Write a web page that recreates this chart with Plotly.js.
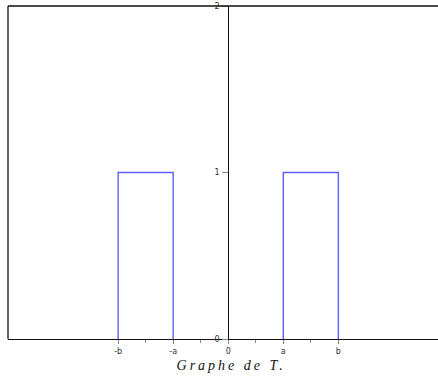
<!DOCTYPE html>
<html>
<head>
<meta charset="utf-8">
<script src="https://cdn.plot.ly/plotly-3.0.1.min.js"></script>
<style>
html,body{margin:0;padding:0;background:#fff;overflow:hidden;}
.gtitle{letter-spacing:3px;}
</style>
</head>
<body>
<div id="chart" style="width:438px;height:383px;"></div>
<script>
// Values
const a = 1;
const b = 2;
const xMin = -4;
const xMax = 3.81;
const yMin = 0;
const yMax = 2;
const leftPulseX = [-b, -b, -a, -a];
const leftPulseY = [0, 1, 1, 0];
const rightPulseX = [a, a, b, b];
const rightPulseY = [0, 1, 1, 0];
const xTickVals = [-b, -a, 0, a, b];
const xTickText = ['-b', '-a', '0', 'a', 'b'];
const xMinorVals = [-1.5, -0.5, 0.5, 1.5];
const yTickVals = [0, 1, 2];
const yTickText = ['0', '1', '2'];
const titleText = 'Graphe de T.';

const lineStyle = {color: 'rgb(95,95,255)', width: 1.4};

const traces = [
  {x: leftPulseX, y: leftPulseY, mode: 'lines', line: lineStyle, hoverinfo: 'none', cliponaxis: true},
  {x: rightPulseX, y: rightPulseY, mode: 'lines', line: lineStyle, hoverinfo: 'none', cliponaxis: true}
];

const tickFont = {family: 'DejaVu Sans, sans-serif', size: 8, color: '#333'};

const layout = {
  width: 438, height: 383,
  margin: {l: 8, r: 0, t: 6, b: 44, pad: 0},
  paper_bgcolor: '#fff', plot_bgcolor: '#fff',
  showlegend: false,
  title: {
    text: titleText,
    font: {family: 'Liberation Serif, DejaVu Serif, serif', size: 14, style: 'italic', color: '#111'},
    x: 0.519, xanchor: 'center', xref: 'paper',
    y: 0.047, yanchor: 'middle', yref: 'container'
  },
  xaxis: {
    range: [xMin, xMax], fixedrange: true,
    showgrid: false, zeroline: false,
    showline: true, linecolor: '#111', linewidth: 1.3, mirror: false,
    tickmode: 'array', tickvals: xTickVals, ticktext: xTickText,
    ticks: 'outside', ticklen: 4, tickcolor: '#888', tickwidth: 1,
    tickfont: tickFont,
    minor: {tickmode: 'array', tickvals: xMinorVals, ticks: 'outside', ticklen: 3, tickcolor: '#888', tickwidth: 1},
    layer: 'above traces'
  },
  yaxis: {
    range: [yMin, yMax], fixedrange: true,
    anchor: 'free', position: (0 - xMin) / (xMax - xMin),
    showgrid: false, zeroline: false,
    showline: true, linecolor: '#111', linewidth: 1.2, mirror: false,
    tickmode: 'array', tickvals: yTickVals, ticktext: yTickText,
    ticks: 'outside', ticklen: 6, tickcolor: '#888', tickwidth: 1,
    tickfont: tickFont, ticklabelstandoff: 1,
    layer: 'above traces'
  },
  shapes: [
    {type: 'line', xref: 'paper', yref: 'paper', x0: 0, x1: 0, y0: 0, y1: 1,
     line: {color: '#111', width: 1.3}},
    {type: 'line', xref: 'paper', yref: 'paper', x0: 0, x1: 1, y0: 1, y1: 1,
     line: {color: '#111', width: 1.3}}
  ]
};

Plotly.newPlot('chart', traces, layout, {staticPlot: true, displayModeBar: false});
</script>
</body>
</html>
